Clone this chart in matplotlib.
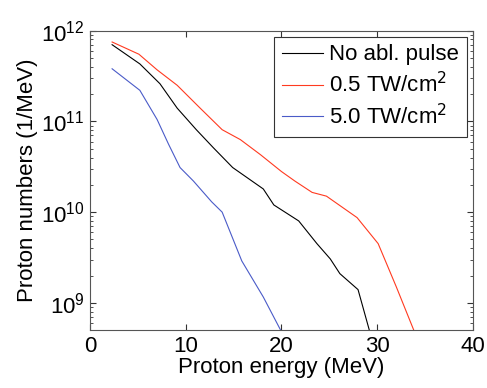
import numpy as np
import matplotlib.pyplot as plt
from matplotlib.ticker import LogLocator, NullFormatter

plt.rcParams['font.family'] = ['Liberation Sans', 'DejaVu Sans']

# proton spectra
e_none = [2.3, 5.2, 7.3, 9.1, 11.1, 12.9, 14.9, 18.1, 19.2, 21.8, 23.7, 25.1, 26.1, 28.0, 29.3]
n_none = [7.0e11, 4.3e11, 2.6e11, 1.4e11, 8.1e10, 5.1e10, 3.1e10, 1.8e10, 1.2e10, 8.0e9,
          4.5e9, 3.05e9, 2.1e9, 1.4e9, 4.5e8]

e_05 = [2.3, 5.1, 7.0, 9.1, 11.5, 13.8, 15.7, 17.8, 20.0, 21.4, 23.2, 24.7, 27.9, 30.1, 32.0, 34.0]
n_05 = [7.5e11, 5.5e11, 3.7e11, 2.5e11, 1.4e11, 8.1e10, 6.3e10, 4.3e10, 2.8e10, 2.2e10,
        1.65e10, 1.5e10, 8.7e9, 4.5e9, 1.5e9, 4.5e8]

e_50 = [2.3, 5.2, 7.0, 8.2, 9.4, 10.8, 12.7, 13.8, 15.85, 18.1, 20.0]
n_50 = [3.8e11, 2.2e11, 1.05e11, 5.6e10, 3.1e10, 2.2e10, 1.3e10, 1.0e10, 2.9e9, 1.16e9, 4.8e8]

labels = ['No abl. pulse', '0.5 TW/cm$^2$', '5.0 TW/cm$^2$']

fig = plt.figure(figsize=(4.87, 3.88), dpi=100)
ax = fig.add_axes([0.185, 0.149, 0.786, 0.772])

ax.semilogy(e_none, n_none, color='black', lw=0.8, label=labels[0])
ax.semilogy(e_05, n_05, color='#ff3a20', lw=0.8, label=labels[1])
ax.semilogy(e_50, n_50, color='#4a5bc8', lw=0.8, label=labels[2])

ax.set_xlim(0, 40)
ax.set_ylim(5e8, 1e12)
ax.set_xticks([0, 10, 20, 30, 40])
ax.yaxis.set_major_locator(LogLocator(base=10, numticks=10))
ax.yaxis.set_minor_locator(LogLocator(base=10, subs=np.arange(2, 10), numticks=10))
ax.yaxis.set_minor_formatter(NullFormatter())

ax.tick_params(which='both', direction='in', top=True, right=True, labelsize=16, colors='#333333')
ax.tick_params(which='major', length=4)
ax.tick_params(which='minor', length=2)
ax.tick_params(axis='both', labelcolor='black', pad=4)
for s in ax.spines.values():
    s.set_color('#555555')
    s.set_linewidth(0.8)

ax.set_xlabel('Proton energy (MeV)', fontsize=16, labelpad=0)
ax.set_ylabel('Proton numbers (1/MeV)', fontsize=16, labelpad=2)

leg = ax.legend(loc='upper right', fontsize=16, fancybox=False, framealpha=1,
                edgecolor='#333333', handlelength=1.85, handletextpad=0.27,
                borderaxespad=0.27, borderpad=0.35, labelspacing=0.3)
leg.get_frame().set_linewidth(0.8)

fig.savefig('out.png', dpi=100)
